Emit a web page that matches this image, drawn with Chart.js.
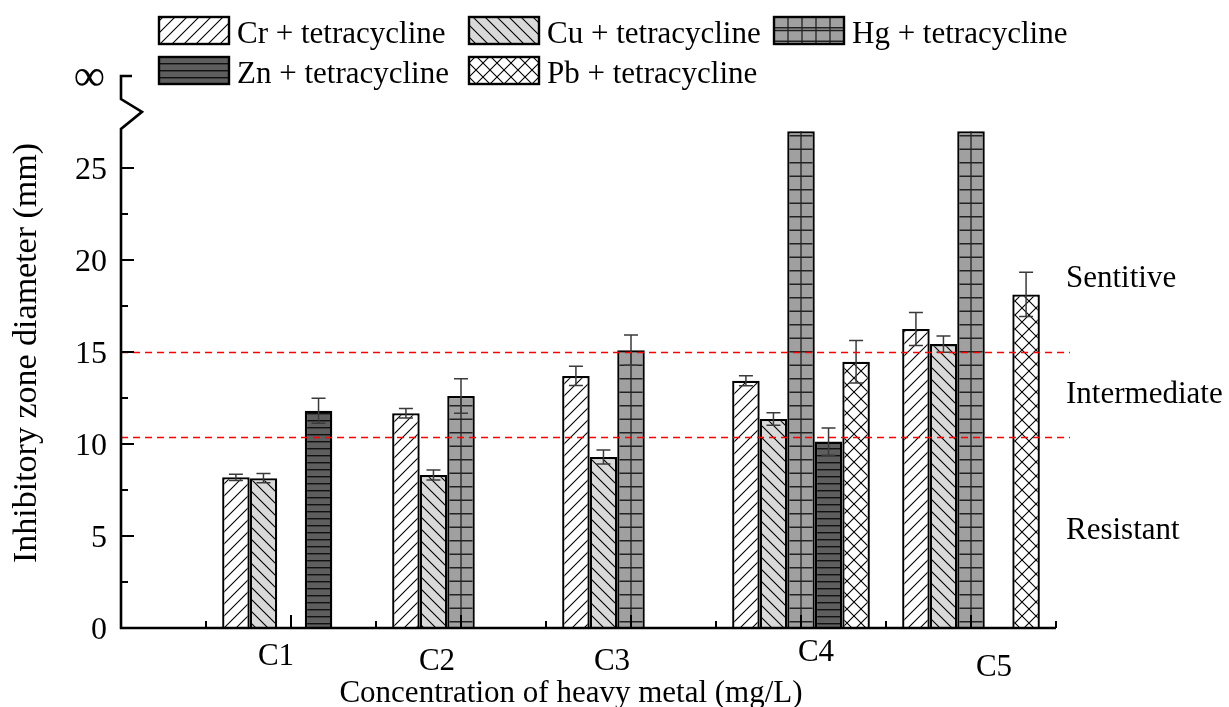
<!DOCTYPE html>
<html><head><meta charset="utf-8">
<script src="https://cdn.jsdelivr.net/npm/chart.js@4.4.1/dist/chart.umd.min.js"></script>
<style>html,body{margin:0;padding:0;background:#fff;}#wrap{width:1229px;height:707px;position:relative;}canvas{display:block;}</style>
</head><body><div id="wrap"><canvas id="c" width="1229" height="707"></canvas></div>
<script>
// ---------- data ----------
const categories = ['C1', 'C2', 'C3', 'C4', 'C5'];
const seriesNames = ['Cr + tetracycline', 'Cu + tetracycline', 'Hg + tetracycline', 'Zn + tetracycline', 'Pb + tetracycline'];
const crValues = [8.19, 11.67, 13.70, 13.44, 16.25];
const crErrors = [0.17, 0.26, 0.52, 0.27, 0.90];
const cuValues = [8.14, 8.32, 9.29, 11.36, 15.43];
const cuErrors = [0.25, 0.27, 0.38, 0.34, 0.44];
const hgValues = [null, 12.61, 15.10, 27, 27];
const hgErrors = [null, 0.94, 0.82, null, null];
const znValues = [11.81, null, null, 10.13, null];
const znErrors = [0.68, null, null, 0.74, null];
const pbValues = [null, null, null, 14.47, 18.13];
const pbErrors = [null, null, null, 1.16, 1.20];
const yTicks = [0, 5, 10, 15, 20, 25];
const yInfinityValue = 30;
const yInfinityLabel = '\u221E';
const thresholds = [15, 10.4];
const zoneLabels = ['Sentitive', 'Intermediate', 'Resistant'];
const zoneLabelValues = [18.53, 12.23, 4.84];
const xTitle = 'Concentration of heavy metal (mg/L)';
const yTitle = 'Inhibitory zone diameter (mm)';

const valueArrays = [crValues, cuValues, hgValues, znValues, pbValues];
const errorArrays = [crErrors, cuErrors, hgErrors, znErrors, pbErrors];

// ---------- styles ----------
const FONT = '"Liberation Serif", "Times New Roman", serif';
function makePattern(kind) {
  const c = document.createElement('canvas');
  const g = c.getContext('2d');
  let S;
  if (kind === 'cr' || kind === 'cu') {
    S = 12; c.width = S; c.height = S;
    g.fillStyle = kind === 'cr' ? '#ffffff' : '#d9d9d9';
    g.fillRect(0, 0, S, S);
    g.strokeStyle = '#000'; g.lineWidth = 1.1;
    g.beginPath();
    if (kind === 'cr') {
      g.moveTo(-1, S + 1); g.lineTo(S + 1, -1);
      g.moveTo(-1, 1); g.lineTo(1, -1);
      g.moveTo(S - 1, S + 1); g.lineTo(S + 1, S - 1);
    } else {
      g.moveTo(-1, -1); g.lineTo(S + 1, S + 1);
      g.moveTo(S - 1, -1); g.lineTo(S + 1, 1);
      g.moveTo(-1, S - 1); g.lineTo(1, S + 1);
    }
    g.stroke();
  } else if (kind === 'hg') {
    c.width = 4; c.height = 27;
    g.fillStyle = '#a0a0a0'; g.fillRect(0, 0, 4, 27);
    g.fillStyle = '#222';
    g.fillRect(0, 0, 4, 1.5); g.fillRect(0, 13.5, 4, 1.5);
  } else if (kind === 'zn') {
    c.width = 4; c.height = 7;
    g.fillStyle = '#5e5e5e'; g.fillRect(0, 0, 4, 7);
    g.fillStyle = '#111'; g.fillRect(0, 0, 4, 1.4);
  } else if (kind === 'pb') {
    S = 14; c.width = S; c.height = S;
    g.fillStyle = '#fff'; g.fillRect(0, 0, S, S);
    g.strokeStyle = '#000'; g.lineWidth = 1.1;
    g.beginPath();
    g.moveTo(-1, -1); g.lineTo(S + 1, S + 1);
    g.moveTo(-1, S + 1); g.lineTo(S + 1, -1);
    g.stroke();
  }
  return g.createPattern(c, 'repeat');
}
const patterns = ['cr', 'cu', 'hg', 'zn', 'pb'].map(makePattern);

// ---------- decoration plugin ----------
const decor = {
  id: 'decor',
  afterDatasetsDraw(chart) {
    const ctx = chart.ctx;
    const xs = chart.scales.x, ys = chart.scales.y;
    const ca = chart.chartArea;
    const L = ca.left, B = ys.getPixelForValue(0);
    ctx.save();

    // Hg centre grid line
    const hgMeta = chart.getDatasetMeta(2);
    hgMeta.data.forEach((bar, i) => {
      if (hgValues[i] == null) return;
      ctx.strokeStyle = '#222'; ctx.lineWidth = 1.3;
      ctx.beginPath(); ctx.moveTo(bar.x, bar.y); ctx.lineTo(bar.x, bar.base); ctx.stroke();
    });

    // error bars
    chart.data.datasets.forEach((ds, di) => {
      const meta = chart.getDatasetMeta(di);
      meta.data.forEach((bar, i) => {
        const v = valueArrays[di][i], e = errorArrays[di][i];
        if (v == null || e == null) return;
        const top = ys.getPixelForValue(v + e), bot = ys.getPixelForValue(v - e);
        const hw = 7;
        ctx.strokeStyle = '#3a3a3a'; ctx.lineWidth = 1.5;
        ctx.beginPath();
        ctx.moveTo(bar.x, top); ctx.lineTo(bar.x, bot);
        ctx.moveTo(bar.x - hw, top); ctx.lineTo(bar.x + hw, top);
        ctx.moveTo(bar.x - hw, bot); ctx.lineTo(bar.x + hw, bot);
        ctx.stroke();
      });
    });

    // threshold lines
    ctx.strokeStyle = '#ff0000'; ctx.lineWidth = 1.3; ctx.setLineDash([7, 5]);
    thresholds.forEach(t => {
      const y = Math.round(ys.getPixelForValue(t)) + 0.5;
      ctx.beginPath(); ctx.moveTo(L, y); ctx.lineTo(ca.right + 14, y); ctx.stroke();
    });
    ctx.setLineDash([]);

    // y axis with break
    ctx.strokeStyle = '#000'; ctx.lineWidth = 2.6; ctx.lineJoin = 'miter';
    ctx.beginPath();
    ctx.moveTo(L, B + 1);
    ctx.lineTo(L, ys.getPixelForValue(27.12));
    ctx.lineTo(L + 21, ys.getPixelForValue(28.05));
    ctx.lineTo(L, ys.getPixelForValue(28.75));
    ctx.lineTo(L, ys.getPixelForValue(yInfinityValue));
    ctx.lineTo(L + 11, ys.getPixelForValue(yInfinityValue));
    ctx.stroke();
    // y ticks
    ctx.lineWidth = 2;
    ctx.beginPath();
    yTicks.forEach((t, k) => {
      const y = ys.getPixelForValue(t);
      ctx.moveTo(L, y); ctx.lineTo(L + 13, y);
      if (k < yTicks.length - 1) {
        const ym = ys.getPixelForValue((t + yTicks[k + 1]) / 2);
        ctx.moveTo(L, ym); ctx.lineTo(L + 7, ym);
      }
    });
    ctx.stroke();

    // x axis
    ctx.lineWidth = 2.6;
    ctx.beginPath(); ctx.moveTo(L - 1, B); ctx.lineTo(ca.right, B); ctx.stroke();
    ctx.lineWidth = 2;
    ctx.beginPath();
    categories.forEach((c, i) => {
      const x = xs.getPixelForValue(i);
      ctx.moveTo(x, B); ctx.lineTo(x, B - 13);
    });
    for (let i = -0.5; i <= categories.length - 0.5; i += 1) {
      const x = xs.getPixelForValue(i);
      ctx.moveTo(x, B); ctx.lineTo(x, B - 7);
    }
    ctx.stroke();

    // y tick labels
    ctx.fillStyle = '#000';
    ctx.font = '32px ' + FONT;
    ctx.textAlign = 'right'; ctx.textBaseline = 'alphabetic';
    yTicks.forEach(t => {
      ctx.fillText(String(t), L - 14, ys.getPixelForValue(t) + 11);
    });
    ctx.font = '44px ' + FONT;
    ctx.textBaseline = 'middle';
    ctx.fillText(yInfinityLabel, L - 16, ys.getPixelForValue(yInfinityValue) + 2);

    // category labels (hand-placed nudges as in original)
    const nudgeX = [-15, -24, -19, 15, 23];
    const baseY = [665, 670, 670, 661, 676];
    ctx.font = '31px ' + FONT;
    ctx.textAlign = 'center'; ctx.textBaseline = 'alphabetic';
    categories.forEach((c, i) => {
      ctx.fillText(c, xs.getPixelForValue(i) + nudgeX[i], baseY[i]);
    });

    // axis titles
    ctx.font = '31px ' + FONT;
    ctx.fillText(xTitle, 571, 702);
    ctx.save();
    ctx.translate(36, 353);
    ctx.rotate(-Math.PI / 2);
    ctx.font = '34px ' + FONT;
    ctx.textAlign = 'center'; ctx.textBaseline = 'alphabetic';
    ctx.fillText(yTitle, 0, 0);
    ctx.restore();

    // zone labels
    ctx.font = '31px ' + FONT;
    ctx.textAlign = 'left';
    zoneLabels.forEach((z, i) => {
      ctx.fillText(z, ca.right + 10, ys.getPixelForValue(zoneLabelValues[i]));
    });

    // legend
    const legendPos = [[159, 17], [469, 17], [774, 17], [159, 57], [469, 57]];
    ctx.font = '31px ' + FONT;
    seriesNames.forEach((n, i) => {
      const [bx, by] = legendPos[i];
      const w = 70, h = 27;
      ctx.fillStyle = patterns[i];
      ctx.fillRect(bx, by, w, h);
      if (i === 2) {
        ctx.strokeStyle = '#222'; ctx.lineWidth = 1.3;
        ctx.beginPath();
        for (let k = 1; k < 5; k++) { ctx.moveTo(bx + k * 14, by); ctx.lineTo(bx + k * 14, by + h); }
        ctx.moveTo(bx, by + h / 2); ctx.lineTo(bx + w, by + h / 2);
        ctx.stroke();
      }
      ctx.strokeStyle = '#000'; ctx.lineWidth = 2.4;
      ctx.strokeRect(bx, by, w, h);
      ctx.fillStyle = '#000';
      ctx.fillText(n, bx + w + 8, by + 26);
    });

    ctx.restore();
  }
};

const datasets = seriesNames.map((name, di) => ({
  label: name,
  data: categories.map((c, i) => ({ x: i, y: valueArrays[di][i] })),
  backgroundColor: patterns[di],
  borderColor: '#000',
  borderWidth: 2.3,
  borderSkipped: 'start',
  categoryPercentage: 0.81,
  barPercentage: 1.0
}));

new Chart(document.getElementById('c'), {
  type: 'bar',
  data: { datasets },
  options: {
    responsive: false,
    animation: false,
    devicePixelRatio: 1,
    layout: { padding: { left: 121, right: 173, top: 76, bottom: 79 } },
    plugins: { legend: { display: false }, tooltip: { enabled: false } },
    scales: {
      x: {
        type: 'linear', min: -1, max: 4.5, offset: false, display: false,
        afterBuildTicks: s => { s.ticks = categories.map((c, i) => ({ value: i })); }
      },
      y: { type: 'linear', min: 0, max: yInfinityValue, display: false }
    }
  },
  plugins: [decor]
});
</script>
</body></html>
